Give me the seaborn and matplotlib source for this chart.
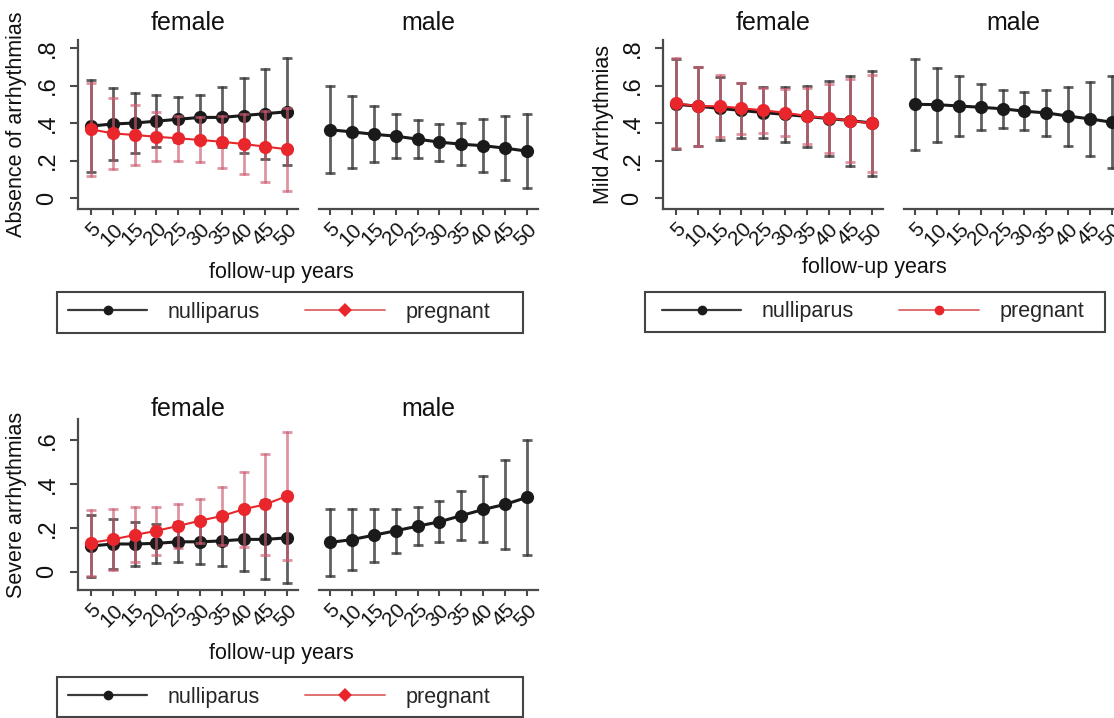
import numpy as np
import pandas as pd
import matplotlib
matplotlib.use("Agg")
import matplotlib.pyplot as plt
from matplotlib.lines import Line2D
from matplotlib.patches import Rectangle
from matplotlib.ticker import FixedLocator, FixedFormatter
import seaborn as sns

# ---------------- data ----------------
years = [5, 10, 15, 20, 25, 30, 35, 40, 45, 50]
year_labels = ["5", "10", "15", "20", "25", "30", "35", "40", "45", "50"]

# Absence of arrhythmias
abs_f_null = [0.384, 0.395, 0.400, 0.410, 0.420, 0.430, 0.430, 0.440, 0.450, 0.460]
abs_f_null_hw = [0.245, 0.190, 0.160, 0.140, 0.120, 0.120, 0.160, 0.200, 0.240, 0.285]
abs_f_preg = [0.366, 0.345, 0.336, 0.327, 0.318, 0.310, 0.300, 0.288, 0.274, 0.260]
abs_f_preg_hw = [0.250, 0.190, 0.160, 0.130, 0.120, 0.120, 0.140, 0.160, 0.190, 0.220]
abs_m_null = [0.364, 0.353, 0.340, 0.330, 0.314, 0.298, 0.287, 0.279, 0.266, 0.250]
abs_m_null_hw = [0.233, 0.193, 0.150, 0.118, 0.100, 0.098, 0.113, 0.140, 0.170, 0.198]

# Mild arrhythmias
mild_f_null = [0.500, 0.490, 0.478, 0.467, 0.456, 0.446, 0.435, 0.424, 0.413, 0.400]
mild_f_null_hw = [0.240, 0.210, 0.170, 0.145, 0.135, 0.145, 0.165, 0.200, 0.240, 0.280]
mild_f_preg = [0.505, 0.490, 0.490, 0.479, 0.468, 0.455, 0.438, 0.425, 0.413, 0.398]
mild_f_preg_hw = [0.240, 0.210, 0.165, 0.135, 0.120, 0.125, 0.150, 0.185, 0.220, 0.260]
mild_m_null = [0.500, 0.498, 0.491, 0.484, 0.476, 0.463, 0.454, 0.437, 0.422, 0.404]
mild_m_null_hw = [0.244, 0.198, 0.159, 0.122, 0.100, 0.100, 0.122, 0.157, 0.198, 0.246]

# Severe arrhythmias
sev_f_null = [0.117, 0.126, 0.126, 0.129, 0.136, 0.136, 0.140, 0.147, 0.147, 0.154]
sev_f_null_hw = [0.140, 0.115, 0.100, 0.090, 0.090, 0.100, 0.115, 0.145, 0.180, 0.205]
sev_f_preg = [0.132, 0.147, 0.167, 0.186, 0.208, 0.232, 0.253, 0.284, 0.306, 0.344]
sev_f_preg_hw = [0.150, 0.140, 0.125, 0.110, 0.100, 0.100, 0.130, 0.170, 0.230, 0.290]
sev_m_null = [0.133, 0.146, 0.166, 0.186, 0.207, 0.227, 0.255, 0.283, 0.306, 0.338]
sev_m_null_hw = [0.152, 0.139, 0.120, 0.100, 0.085, 0.093, 0.111, 0.150, 0.203, 0.260]

ytick_vals_top = [0, 0.2, 0.4, 0.6, 0.8]
ytick_labels_top = ["0", ".2", ".4", ".6", ".8"]
ytick_vals_bot = [0, 0.2, 0.4, 0.6]
ytick_labels_bot = ["0", ".2", ".4", ".6"]

series_names = ["nulliparus", "pregnant"]
panel_titles = ["female", "male"]
ylabels = ["Absence of arrhythmias", "Mild Arrhythmias", "Severe arrhythmias"]
xlabel_text = "follow-up years"

# ---------------- style ----------------
sns.set_theme(style="white")
plt.rcParams["font.family"] = ["Liberation Sans", "DejaVu Sans"]

W, H = 1114, 718
fig = plt.figure(figsize=(W / 100, H / 100), dpi=100)

AX_COL = "#4a4a4a"
TXT = "#111111"
BLACK = "#1a1a1a"
BLACK_E = (0.22, 0.22, 0.22, 0.8)
RED = "#e8262b"
RED_E = (0.80, 0.36, 0.44, 0.65)


def px_axes(x0, y0, x1, y1):
    return fig.add_axes([x0 / W, 1 - y1 / H, (x1 - x0) / W, (y1 - y0) / H])


def draw(ax, y, hw, color, ecolor, marker, lw, ms, z):
    y = np.asarray(y)
    hw = np.asarray(hw)
    df = pd.DataFrame({
        "year": np.repeat(years, 3),
        "v": np.column_stack([y - hw, y, y + hw]).ravel(),
    })
    sns.lineplot(
        data=df, x="year", y="v", ax=ax,
        estimator="median",
        errorbar=lambda v: (v.min(), v.max()),
        err_style="bars",
        err_kws=dict(ecolor=ecolor, elinewidth=2.0, capsize=3.5,
                     capthick=2.0, zorder=z - 0.5),
        color=color, marker=marker, markersize=ms, markeredgewidth=0,
        linewidth=lw, zorder=z, legend=False,
    )


def style_axes(ax, ylim, yvals, ylabs, female, xlim):
    ax.set_xlim(*xlim)
    ax.set_ylim(*ylim)
    ax.set_xlabel("")
    ax.set_ylabel("")
    ax.xaxis.set_major_locator(FixedLocator(years))
    ax.xaxis.set_major_formatter(FixedFormatter(year_labels))
    ax.tick_params(axis="x", length=4.5, width=1.5, color=AX_COL,
                   bottom=True, pad=3, labelcolor=TXT, labelsize=15,
                   labelrotation=45)
    for lab in ax.get_xticklabels():
        lab.set_ha("right")
        lab.set_va("top")
        lab.set_rotation_mode("anchor")
    for s in ["top", "right"]:
        ax.spines[s].set_visible(False)
    ax.spines["bottom"].set_color(AX_COL)
    ax.spines["bottom"].set_linewidth(1.6)
    if female:
        ax.yaxis.set_major_locator(FixedLocator(yvals))
        ax.yaxis.set_major_formatter(FixedFormatter(ylabs))
        ax.tick_params(axis="y", length=6, width=1.5, color=AX_COL,
                       left=True, pad=8, labelcolor=TXT, labelsize=17,
                       labelrotation=90)
        for lab in ax.get_yticklabels():
            lab.set_va("center")
        ax.spines["left"].set_color(AX_COL)
        ax.spines["left"].set_linewidth(1.6)
    else:
        ax.spines["left"].set_visible(False)
        ax.set_yticks([])


def block(xoff, y0, y1, ylim, yvals, ylabs, fn, fnh, fp, fph, mn, mnh,
          ylabel, ylabel_x, title_pad):
    axf = px_axes(78 + xoff, y0, 298 + xoff, y1)
    axm = px_axes(319 + xoff, y0, 538 + xoff, y1)
    draw(axf, fn, fnh, BLACK, BLACK_E, "o", 2.2, 9.5, 3)
    draw(axf, fp, fph, RED, RED_E, "o", 1.5, 9.5, 5)
    draw(axm, mn, mnh, BLACK, BLACK_E, "o", 2.2, 9.5, 3)
    style_axes(axf, ylim, yvals, ylabs, True, (2.0, 52.5))
    style_axes(axm, ylim, yvals, ylabs, False, (2.5, 52.5))
    axf.set_title(panel_titles[0], fontsize=18, pad=title_pad, color=TXT)
    axm.set_title(panel_titles[1], fontsize=18, pad=title_pad, color=TXT)
    fig.text(ylabel_x / W, 1 - (y0 + y1) / 2 / H, ylabel, rotation=90,
             ha="center", va="center", fontsize=15.5, color=TXT)
    return axf, axm


top_ylim = (-0.0587, 0.843)
bot_ylim = (-0.083, 0.694)

block(0, 40, 209, top_ylim, ytick_vals_top, ytick_labels_top,
      abs_f_null, abs_f_null_hw, abs_f_preg, abs_f_preg_hw,
      abs_m_null, abs_m_null_hw, ylabels[0], 17, 7)
block(585, 40, 209, top_ylim, ytick_vals_top, ytick_labels_top,
      mild_f_null, mild_f_null_hw, mild_f_preg, mild_f_preg_hw,
      mild_m_null, mild_m_null_hw, ylabels[1], 604, 7)
block(0, 419, 590, bot_ylim, ytick_vals_bot, ytick_labels_bot,
      sev_f_null, sev_f_null_hw, sev_f_preg, sev_f_preg_hw,
      sev_m_null, sev_m_null_hw, ylabels[2], 17, 2)

# x-axis titles
for (cx, cy) in [(281, 272), (874, 268), (281, 653)]:
    fig.text(cx / W, 1 - cy / H, xlabel_text, ha="center", va="center",
             fontsize=15.5, color=TXT)


def make_handles(red_marker):
    h1 = Line2D([], [], color="#3a3a3a", lw=1.6, marker="o", markersize=7,
                markerfacecolor=BLACK, markeredgewidth=0)
    h2 = Line2D([], [], color="#e07070", lw=1.4, marker=red_marker,
                markersize=7, markerfacecolor=RED, markeredgewidth=0)
    return [h1, h2]


# legend: frame box (x0, y0, x1, y1) and content centre (cx) in pixels
for (x0, y0, x1, y1, cx, rm) in [(57, 292, 523, 333, 279, "D"),
                                 (645, 292, 1105, 332, 873, "o"),
                                 (57, 677, 523, 717, 279, "D")]:
    fig.add_artist(Rectangle((x0 / W, 1 - y1 / H), (x1 - x0) / W,
                             (y1 - y0) / H, transform=fig.transFigure,
                             facecolor="white", edgecolor="#444444",
                             linewidth=1.5, zorder=1))
    leg = fig.legend(make_handles(rm), series_names, loc="center",
                     bbox_to_anchor=(cx / W, 1 - (y0 + y1) / 2 / H),
                     ncol=2, fontsize=15.5, frameon=False,
                     handlelength=3.7, handletextpad=0.95,
                     columnspacing=2.1, borderpad=0.3, borderaxespad=0)
    leg.set_zorder(2)

fig.savefig("out.png", dpi=100)
